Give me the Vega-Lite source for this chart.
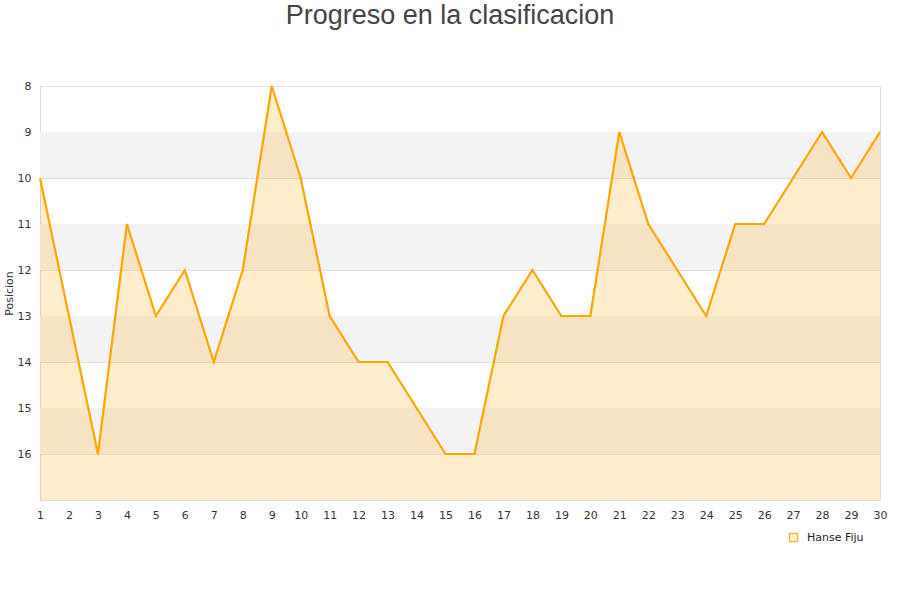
{
  "$schema": "https://vega.github.io/schema/vega-lite/v6.json",
  "autosize": "none",
  "width": 840,
  "height": 414,
  "padding": {"left": 40, "top": 86, "right": 20, "bottom": 100},
  "background": "white",
  "config": {
    "view": {"stroke": "#DDDDDD", "strokeWidth": 1},
    "font": "DejaVu Sans",
    "axis": {"labelOverlap": false, "labelFlush": false},
    "axisX": {"tickCount": 30}
  },
  "title": {
    "text": "Progreso en la clasificacion",
    "font": "Liberation Sans",
    "fontSize": 27,
    "fontWeight": "normal",
    "color": "#444444",
    "anchor": "middle",
    "offset": 50,
    "dx": -10
  },
  "datasets": {
    "bands": [
      {"from": 9, "to": 10},
      {"from": 11, "to": 12},
      {"from": 13, "to": 14},
      {"from": 15, "to": 16}
    ],
    "progreso": [
      {"jornada": 1, "posicion": 10, "equipo": "Hanse Fiju"},
      {"jornada": 2, "posicion": 13, "equipo": "Hanse Fiju"},
      {"jornada": 3, "posicion": 16, "equipo": "Hanse Fiju"},
      {"jornada": 4, "posicion": 11, "equipo": "Hanse Fiju"},
      {"jornada": 5, "posicion": 13, "equipo": "Hanse Fiju"},
      {"jornada": 6, "posicion": 12, "equipo": "Hanse Fiju"},
      {"jornada": 7, "posicion": 14, "equipo": "Hanse Fiju"},
      {"jornada": 8, "posicion": 12, "equipo": "Hanse Fiju"},
      {"jornada": 9, "posicion": 8, "equipo": "Hanse Fiju"},
      {"jornada": 10, "posicion": 10, "equipo": "Hanse Fiju"},
      {"jornada": 11, "posicion": 13, "equipo": "Hanse Fiju"},
      {"jornada": 12, "posicion": 14, "equipo": "Hanse Fiju"},
      {"jornada": 13, "posicion": 14, "equipo": "Hanse Fiju"},
      {"jornada": 14, "posicion": 15, "equipo": "Hanse Fiju"},
      {"jornada": 15, "posicion": 16, "equipo": "Hanse Fiju"},
      {"jornada": 16, "posicion": 16, "equipo": "Hanse Fiju"},
      {"jornada": 17, "posicion": 13, "equipo": "Hanse Fiju"},
      {"jornada": 18, "posicion": 12, "equipo": "Hanse Fiju"},
      {"jornada": 19, "posicion": 13, "equipo": "Hanse Fiju"},
      {"jornada": 20, "posicion": 13, "equipo": "Hanse Fiju"},
      {"jornada": 21, "posicion": 9, "equipo": "Hanse Fiju"},
      {"jornada": 22, "posicion": 11, "equipo": "Hanse Fiju"},
      {"jornada": 23, "posicion": 12, "equipo": "Hanse Fiju"},
      {"jornada": 24, "posicion": 13, "equipo": "Hanse Fiju"},
      {"jornada": 25, "posicion": 11, "equipo": "Hanse Fiju"},
      {"jornada": 26, "posicion": 11, "equipo": "Hanse Fiju"},
      {"jornada": 27, "posicion": 10, "equipo": "Hanse Fiju"},
      {"jornada": 28, "posicion": 9, "equipo": "Hanse Fiju"},
      {"jornada": 29, "posicion": 10, "equipo": "Hanse Fiju"},
      {"jornada": 30, "posicion": 9, "equipo": "Hanse Fiju"}
    ]
  },
  "layer": [
    {
      "data": {"name": "bands"},
      "mark": {"type": "rect", "color": "#F3F3F3"},
      "encoding": {
        "y": {
          "field": "from",
          "type": "quantitative",
          "scale": {"domain": [8, 17], "reverse": true, "nice": false, "zero": false},
          "axis": {
            "title": "Posicion",
            "titleFontSize": 11,
            "titleFontWeight": "normal",
            "titleColor": "#333333",
            "titlePadding": 3,
            "values": [8, 9, 10, 11, 12, 13, 14, 15, 16],
            "format": "d",
            "grid": true,
            "gridColor": "#E0E0E0",
            "domain": false,
            "ticks": false,
            "labelPadding": 9,
            "labelFontSize": 11,
            "labelColor": "#333333"
          }
        },
        "y2": {"field": "to"}
      }
    },
    {
      "data": {"name": "progreso"},
      "mark": {"type": "area", "color": "#FFA500", "opacity": 0.2},
      "encoding": {
        "x": {
          "field": "jornada",
          "type": "quantitative",
          "scale": {"domain": [1, 30], "nice": false, "zero": false},
          "axis": {
            "title": null,
            "values": [1,2,3,4,5,6,7,8,9,10,11,12,13,14,15,16,17,18,19,20,21,22,23,24,25,26,27,28,29,30],
            "format": "d",
            "grid": false,
            "domain": false,
            "ticks": false,
            "labelPadding": 9,
            "labelFontSize": 11,
            "labelColor": "#333333",
            "labelFlush": false,
            "labelOverlap": false
          }
        },
        "y": {"field": "posicion", "type": "quantitative"},
        "y2": {"datum": 17}
      }
    },
    {
      "data": {"name": "progreso"},
      "mark": {"type": "line", "strokeWidth": 2.2},
      "encoding": {
        "x": {"field": "jornada", "type": "quantitative"},
        "y": {"field": "posicion", "type": "quantitative"},
        "color": {
          "field": "equipo",
          "type": "nominal",
          "scale": {"range": ["#FFA500"]},
          "legend": {
            "title": null,
            "orient": "none",
            "legendX": 748,
            "legendY": 446,
            "symbolType": "square",
            "symbolSize": 70,
            "labelFontSize": 11,
            "labelColor": "#222222",
            "labelOffset": 8,
            "encode": {
              "symbols": {
                "update": {
                  "fill": {"value": "#FFEDCC"},
                  "stroke": {"value": "#777777"},
                  "strokeWidth": {"value": 1}
                }
              }
            }
          }
        }
      }
    }
  ]
}
